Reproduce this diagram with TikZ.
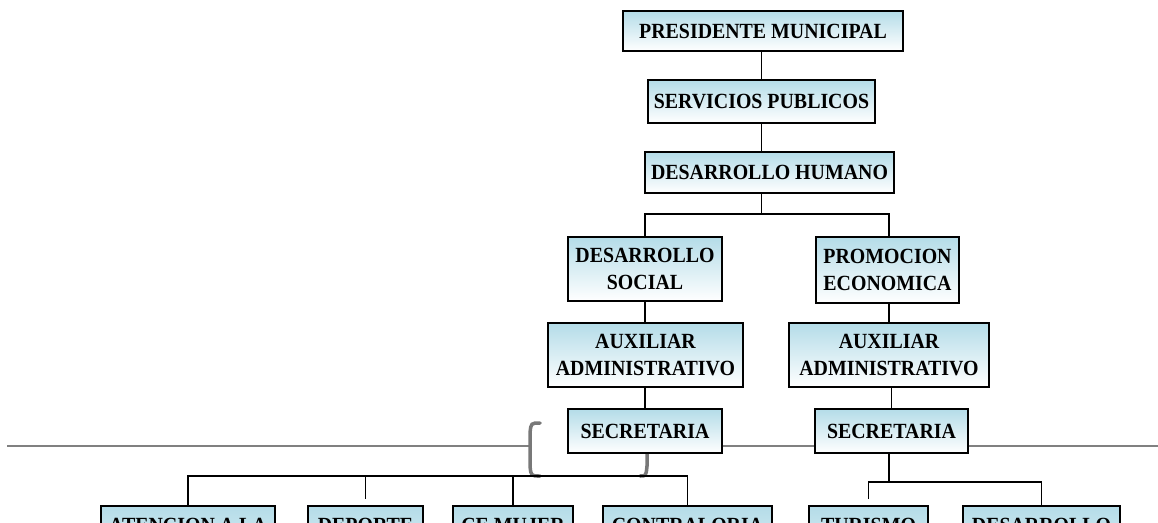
\documentclass[tikz,border=0pt]{standalone}
\usepackage{fontspec}
\setmainfont{Liberation Serif}[FakeStretch=0.92]
\usepackage{tikz}
\usetikzlibrary{calc, positioning}
\definecolor{boxBlue}{RGB}{180,220,232}
\definecolor{ruleGray}{gray}{0.5}
\definecolor{braceGray}{gray}{0.47}

\tikzset{
  unitBox/.style={draw=black, line width=1.1pt, top color=boxBlue, bottom color=white,
    align=center, inner sep=2pt, font=\fontsize{12.3}{15}\selectfont\bfseries},
  cutBox/.style={unitBox, anchor=north, text height=8pt, text depth=1.2cm, inner ysep=7pt},
  orgLine/.style={draw=black, line width=0.9pt},
  grayRule/.style={draw=ruleGray, line width=1.4pt},
}

\begin{document}
\begin{tikzpicture}[x=0.02cm, y=-0.02cm]
    \useasboundingbox (0,0) rectangle (1158,522);
    \clip (0,0) rectangle (1158,522);
    \coordinate (rule) at (0,446);
    \coordinate (busTop) at (0,214);
    \coordinate (busLeft) at (0,476);
    \coordinate (busRight) at (0,482);

    % linea gris y corchete (detras de los cuadros)
    \draw[grayRule] (7,446) -- (530,446);
    \draw[draw=braceGray, line width=2pt, line cap=round]
        (540,423) .. controls (531,423) .. (530,433) -- (530,466) .. controls (531,476) .. (540,476);
    \draw[draw=braceGray, line width=2pt, line cap=round]
        (640,423) .. controls (646,423) .. (647,433) -- (647,466) .. controls (646,476) .. (640,476);

    \node[unitBox, minimum width=5.6cm, minimum height=0.8cm] (pres) at (763,31) {PRESIDENTE MUNICIPAL};
    \node[unitBox, minimum width=4.54cm, minimum height=0.86cm] (serv) at (761.5,101.5) {SERVICIOS PUBLICOS};
    \node[unitBox, minimum width=4.98cm, minimum height=0.82cm] (dh) at (769.5,172.5) {DESARROLLO HUMANO};
    \node[unitBox, minimum width=3.08cm, minimum height=1.28cm] (ds) at (645,269) {DESARROLLO\\SOCIAL};
    \node[unitBox, minimum width=2.86cm, minimum height=1.32cm] (pe) at (887.5,270) {PROMOCION\\ECONOMICA};
    \node[unitBox, minimum width=3.9cm, minimum height=1.28cm] (aal) at (645.5,355) {AUXILIAR\\ADMINISTRATIVO};
    \node[unitBox, minimum width=4.0cm, minimum height=1.28cm] (aar) at (889,355) {AUXILIAR\\ADMINISTRATIVO};
    \node[unitBox, minimum width=3.08cm, minimum height=0.88cm] (secl) at (645,431) {SECRETARIA};
    \node[unitBox, minimum width=3.06cm, minimum height=0.88cm] (secr) at (891.5,431) {SECRETARIA};

    % fila inferior (cortada por el borde)
    \node[cutBox, minimum width=3.48cm] (aten) at (188,505) {ATENCION A LA};
    \node[cutBox, minimum width=2.3cm] (dep) at (365.5,505) {DEPORTE};
    \node[cutBox, minimum width=2.4cm] (cemu) at (513,505) {CE MUJER};
    \node[cutBox, minimum width=3.38cm] (contra) at (687.5,505) {CONTRALORIA};
    \node[cutBox, minimum width=2.38cm] (turi) at (868.5,505) {TURISMO};
    \node[cutBox, minimum width=3.14cm] (desa) at (1041.5,505) {DESARROLLO};

    \draw[grayRule] (secl.east |- rule) -- (secr.west |- rule);
    \draw[grayRule] (secr.east |- rule) -- (1158,446);

    \draw[orgLine] (pres.south -| serv) -- (serv.north);
    \draw[orgLine] (serv.south) -- (serv.south |- dh.north);
    \draw[orgLine] (serv.south |- dh.south) -- (serv.south |- busTop);
    \draw[orgLine] (ds.north) -- (ds.north |- busTop) -- (aar.north |- busTop) -- (aar.north |- pe.north);
    \draw[orgLine] (ds.south) -- (ds.south |- aal.north);
    \draw[orgLine] (aar.north |- pe.south) -- (aar.north);
    \draw[orgLine] (secl.north |- aal.south) -- (secl.north);
    \draw[orgLine] (secr.north |- aar.south) -- (secr.north);

    \draw[orgLine] (aten.north) -- (aten.north |- busLeft) -- (contra.north |- busLeft) -- (contra.north);
    \draw[orgLine] (dep.north |- busLeft) -- ($(dep.north)+(0,-6)$);
    \draw[orgLine] (cemu.north |- busLeft) -- (cemu.north);
    \draw[orgLine] (secr.south -| aar) -- (aar |- busRight);
    \draw[orgLine] ($(turi.north)+(0,-6)$) -- (turi.north |- busRight) -- (desa.north |- busRight) -- (desa.north);
\end{tikzpicture}
\end{document}
